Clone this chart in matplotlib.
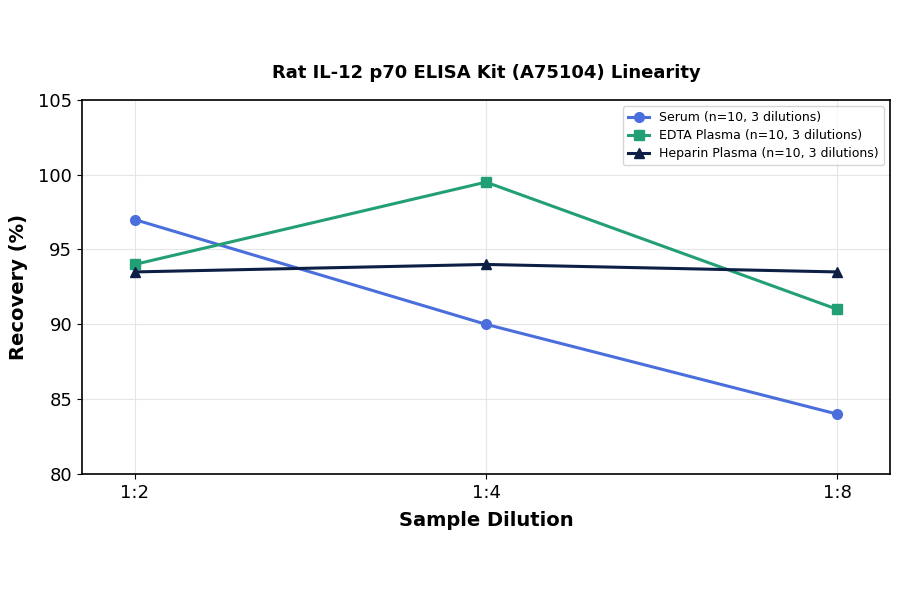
import matplotlib
matplotlib.use("Agg")
import matplotlib.pyplot as plt

dilutions = ["1:2", "1:4", "1:8"]
serum = [97.0, 90.0, 84.0]
edta = [94.0, 99.5, 91.0]
heparin = [93.5, 94.0, 93.5]
labels = ["Serum (n=10, 3 dilutions)", "EDTA Plasma (n=10, 3 dilutions)", "Heparin Plasma (n=10, 3 dilutions)"]

fig = plt.figure(figsize=(9, 5.94), dpi=100)
ax = fig.add_axes([0.091, 0.202, 0.898, 0.630])
x = range(len(dilutions))
ax.plot(x, serum, color="#4a6fdc", marker="o", lw=2.2, ms=7, label=labels[0])
ax.plot(x, edta, color="#239f76", marker="s", lw=2.2, ms=7, label=labels[1])
ax.plot(x, heparin, color="#0d1f45", marker="^", lw=2.2, ms=7, label=labels[2])
ax.set_xticks(list(x))
ax.set_xticklabels(dilutions)
ax.set_xlim(-0.15, 2.15)
ax.set_ylim(80, 105)
ax.set_yticks([80, 85, 90, 95, 100, 105])
ax.tick_params(labelsize=13)
ax.grid(True, color="#e6e6e6", lw=0.8)
ax.set_axisbelow(True)
ax.set_xlabel("Sample Dilution", fontsize=14, fontweight="bold", labelpad=7)
ax.set_ylabel("Recovery (%)", fontsize=14, fontweight="bold", labelpad=7)
ax.set_title("Rat IL-12 p70 ELISA Kit (A75104) Linearity", fontsize=13, fontweight="bold", pad=16)
for s in ax.spines.values():
    s.set_linewidth(1.2)
ax.legend(loc="upper right", fontsize=9, handlelength=1.7, labelspacing=0.4)
fig.savefig("out.png", dpi=100)
